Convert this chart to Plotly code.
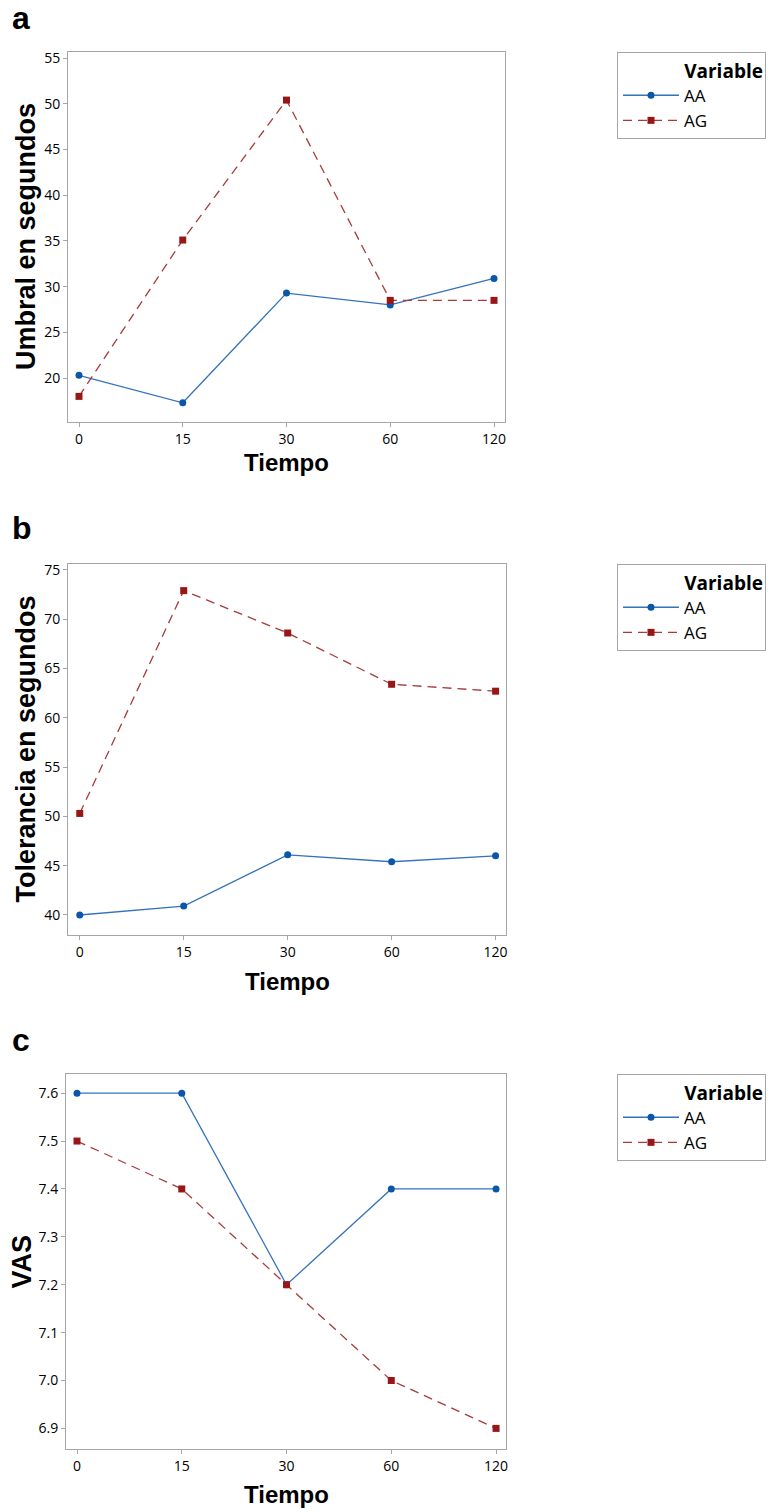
import plotly.graph_objects as go

W, H = 775, 1512

tiempo = ["0", "15", "30", "60", "120"]
umbral_aa = [20.3, 17.3, 29.3, 28.0, 30.9]
umbral_ag = [18.0, 35.1, 50.4, 28.5, 28.5]
toler_aa = [40.0, 40.9, 46.1, 45.4, 46.0]
toler_ag = [50.3, 72.9, 68.6, 63.4, 62.7]
vas_aa = [7.6, 7.6, 7.2, 7.4, 7.4]
vas_ag = [7.5, 7.4, 7.2, 7.0, 6.9]

panels = [
    dict(letter="a", ytitle="Umbral en segundos", aa=umbral_aa, ag=umbral_ag,
         box=(68, 505, 52, 422), yr=[15.2, 55.66], ticks=[20, 25, 30, 35, 40, 45, 50, 55],
         fmt="", xr=[-0.106, 4.106], letter_y=18, xt_y=463, ytx=26),
    dict(letter="b", ytitle="Tolerancia en segundos", aa=toler_aa, ag=toler_ag,
         box=(68, 506, 564, 935), yr=[37.97, 75.6], ticks=[40, 45, 50, 55, 60, 65, 70, 75],
         fmt="", xr=[-0.113, 4.1], letter_y=528, xt_y=981, ytx=26),
    dict(letter="c", ytitle="VAS", aa=vas_aa, ag=vas_ag,
         box=(66, 506, 1074, 1449), yr=[6.857, 7.64], ticks=[6.9, 7.0, 7.1, 7.2, 7.3, 7.4, 7.5, 7.6],
         fmt=".1f", xr=[-0.105, 4.095], letter_y=1040, xt_y=1494, ytx=21),
]

AA_LINE, AA_MK = "#3572bd", "#0b56a8"
AG_LINE, AG_MK = "#a83a3a", "#991616"
GRID = "#a6a6a6"
TICKFONT = dict(family="Open Sans, Noto Sans, sans-serif", size=14, color="#000000")
TITLEFONT = "Liberation Sans, Arial, sans-serif"
LEGFONT = "Open Sans, Noto Sans, sans-serif"

fig = go.Figure()
layout = dict(width=W, height=H, margin=dict(l=0, r=0, t=0, b=0),
              paper_bgcolor="white", plot_bgcolor="white", showlegend=True,
              annotations=[])

for i, p in enumerate(panels):
    n = "" if i == 0 else str(i + 1)
    xa, ya = "x" + n, "y" + n
    leg = "legend" + n
    l, r, t, b = p["box"]
    fig.add_trace(go.Scatter(x=tiempo, y=p["aa"], name="AA", mode="lines+markers",
                             xaxis=xa, yaxis=ya, legend=leg,
                             line=dict(color=AA_LINE, width=1.3),
                             marker=dict(color=AA_MK, size=7, symbol="circle")))
    fig.add_trace(go.Scatter(x=tiempo, y=p["ag"], name="AG", mode="lines+markers",
                             xaxis=xa, yaxis=ya, legend=leg,
                             line=dict(color=AG_LINE, width=1.3, dash="9px,6px"),
                             marker=dict(color=AG_MK, size=7, symbol="square")))
    layout["xaxis" + n] = dict(domain=[l / W, r / W], anchor=ya, type="category",
                               range=p["xr"], showgrid=False, zeroline=False,
                               showline=True, linecolor=GRID, linewidth=1, mirror=True,
                               ticks="outside", ticklen=4, tickcolor=GRID,
                               tickfont=TICKFONT, automargin=False)
    layout["yaxis" + n] = dict(domain=[1 - b / H, 1 - t / H], anchor=xa,
                               range=p["yr"], tickvals=p["ticks"], tickformat=p["fmt"],
                               showgrid=False, zeroline=False,
                               showline=True, linecolor=GRID, linewidth=1, mirror=True,
                               ticks="outside", ticklen=4, tickcolor=GRID,
                               tickfont=TICKFONT, automargin=False)
    layout[leg] = dict(x=617 / W, xanchor="left", y=1 - t / H, yanchor="top",
                       bordercolor=GRID, borderwidth=1, bgcolor="white",
                       itemwidth=56, tracegroupgap=0,
                       font=dict(family=LEGFONT, size=17, color="#000"),
                       title=dict(text="\u00a0" * 13 + "<b>Variable</b>",
                                  font=dict(family=LEGFONT, size=19, color="#000"),
                                  side="top"))
    cx = (l + r) / 2 / W
    cy = 1 - (t + b) / 2 / H
    layout["annotations"] += [
        dict(text="<b>" + p["letter"] + "</b>", x=10 / W, y=1 - p["letter_y"] / H,
             xref="paper", yref="paper", xanchor="left", yanchor="middle",
             showarrow=False, font=dict(family=TITLEFONT, size=32, color="black")),
        dict(text="<b>" + p["ytitle"] + "</b>", x=p["ytx"] / W, y=cy, textangle=-90,
             xref="paper", yref="paper", xanchor="center", yanchor="middle",
             showarrow=False, font=dict(family=TITLEFONT, size=27, color="black")),
        dict(text="<b>Tiempo</b>", x=cx, y=1 - p["xt_y"] / H,
             xref="paper", yref="paper", xanchor="center", yanchor="middle",
             showarrow=False, font=dict(family=TITLEFONT, size=24, color="black")),
    ]

fig.update_layout(**layout)
fig.write_html("out.html")
